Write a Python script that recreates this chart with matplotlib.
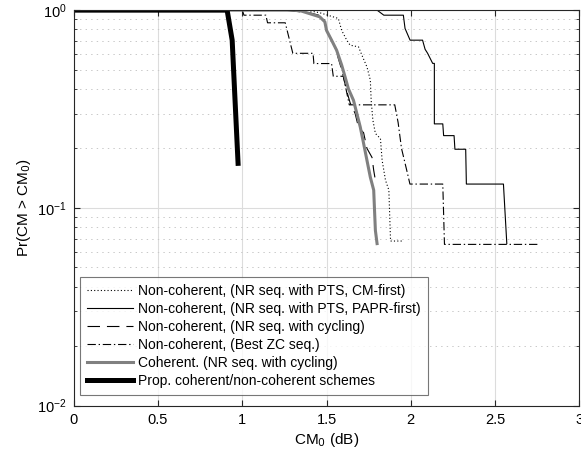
import numpy as np
import matplotlib
matplotlib.use('Agg')
import matplotlib.pyplot as plt
from matplotlib.ticker import LogLocator, NullFormatter

plt.rcParams['font.family'] = ['Liberation Sans', 'DejaVu Sans']
plt.rcParams['lines.scale_dashes'] = False

# CCDF curves: CM0 (dB) and Pr(CM > CM0)
cm_first_x = [0, 1.38, 1.46, 1.57, 1.59, 1.62, 1.64, 1.69, 1.71, 1.74, 1.76, 1.765, 1.775, 1.79, 1.82, 1.83, 1.85, 1.87, 1.88, 1.955]
cm_first_y = [1, 1.0, 0.97, 0.908, 0.79, 0.705, 0.665, 0.652, 0.592, 0.516, 0.443, 0.35, 0.278, 0.238, 0.224, 0.174, 0.138, 0.123, 0.068, 0.068]

papr_first_x = [0, 1.80, 1.84, 1.956, 1.966, 1.996, 2.07, 2.085, 2.10, 2.13, 2.14, 2.14, 2.19, 2.195, 2.257, 2.262, 2.326, 2.33, 2.55, 2.57]
papr_first_y = [1, 1.0, 0.943, 0.943, 0.808, 0.705, 0.705, 0.634, 0.605, 0.538, 0.538, 0.266, 0.266, 0.232, 0.232, 0.198, 0.198, 0.132, 0.132, 0.066]

cycling_x = [0, 1.25, 1.40, 1.48, 1.50, 1.55, 1.59, 1.62, 1.64, 1.67, 1.69, 1.72, 1.74, 1.77, 1.78, 1.79]
cycling_y = [1, 1.0, 0.97, 0.93, 0.80, 0.65, 0.50, 0.39, 0.34, 0.30, 0.255, 0.24, 0.20, 0.18, 0.155, 0.138]

best_zc_x = [0, 1.0, 1.01, 1.14, 1.15, 1.255, 1.30, 1.42, 1.425, 1.53, 1.54, 1.60, 1.635, 1.905, 1.925, 1.945, 1.98, 1.995, 2.19, 2.20, 2.76]
best_zc_y = [1, 1.0, 0.943, 0.943, 0.863, 0.863, 0.605, 0.605, 0.537, 0.537, 0.463, 0.463, 0.332, 0.332, 0.27, 0.20, 0.15, 0.132, 0.132, 0.0654, 0.0654]

coherent_x = [0, 1.30, 1.35, 1.40, 1.46, 1.49, 1.50, 1.53, 1.56, 1.59, 1.61, 1.63, 1.66, 1.68, 1.70, 1.72, 1.74, 1.76, 1.78, 1.785, 1.79, 1.80]
coherent_y = [1, 1.0, 0.99, 0.96, 0.925, 0.873, 0.79, 0.705, 0.627, 0.527, 0.46, 0.40, 0.35, 0.30, 0.257, 0.212, 0.174, 0.143, 0.123, 0.097, 0.077, 0.066]

proposed_x = [0, 0.91, 0.94, 0.975]
proposed_y = [1, 1.0, 0.705, 0.168]

labels = ['Non-coherent, (NR seq. with PTS, CM-first)',
          'Non-coherent, (NR seq. with PTS, PAPR-first)',
          'Non-coherent, (NR seq. with cycling)',
          'Non-coherent, (Best ZC seq.)',
          'Coherent. (NR seq. with cycling)',
          'Prop. coherent/non-coherent schemes']

fig = plt.figure(figsize=(5.81, 4.61), dpi=100)
ax = fig.add_axes([0.127, 0.120, 0.870, 0.858])

ax.plot(cm_first_x, cm_first_y, color='k', lw=0.8, dashes=(0.8, 1.6), label=labels[0])
ax.plot(papr_first_x, papr_first_y, color='k', lw=0.8, label=labels[1])
ax.plot(cycling_x, cycling_y, color='k', lw=0.8, dashes=(9, 5), label=labels[2])
ax.plot(best_zc_x, best_zc_y, color='k', lw=0.8, dashes=(6, 2, 1, 2), label=labels[3])
ax.plot(coherent_x, coherent_y, color='#808080', lw=2.2, label=labels[4])
ax.plot(proposed_x, proposed_y, color='k', lw=3.6, label=labels[5])

ax.set_yscale('log')
ax.set_xlim(0, 3)
ax.set_ylim(0.01, 1)
ax.yaxis.set_major_locator(LogLocator(base=10))
ax.yaxis.set_minor_locator(LogLocator(base=10, subs=np.arange(2, 10)))
ax.yaxis.set_minor_formatter(NullFormatter())
ax.set_xticks([0, 0.5, 1, 1.5, 2, 2.5, 3])
ax.set_xticklabels(['0', '0.5', '1', '1.5', '2', '2.5', '3'])

ax.grid(True, which='major', color='#dcdcdc', lw=0.8, ls='-')
ax.grid(True, which='minor', axis='y', color='#c8c8c8', lw=0.7, ls=(0, (1, 3)))
ax.set_axisbelow(True)

ax.tick_params(which='both', direction='in', top=True, right=True, labelsize=10.5, color='#262626')
ax.tick_params(which='major', length=4, pad=5)
ax.tick_params(which='minor', length=2)
for s in ax.spines.values():
    s.set_color('#262626')
    s.set_linewidth(0.8)

ax.set_xlabel('CM$_0$ (dB)', fontsize=11, labelpad=3)
ax.set_ylabel('Pr(CM > CM$_0$)', fontsize=11, labelpad=3)

leg = ax.legend(loc='lower left', bbox_to_anchor=(0.012, 0.026), fontsize=10, frameon=True,
                fancybox=False, handlelength=3.3, handletextpad=0.35, borderpad=0.55,
                labelspacing=0.28, borderaxespad=0)
leg.get_frame().set_edgecolor('#555555')
leg.get_frame().set_linewidth(0.8)

fig.savefig('out.png', dpi=100)
